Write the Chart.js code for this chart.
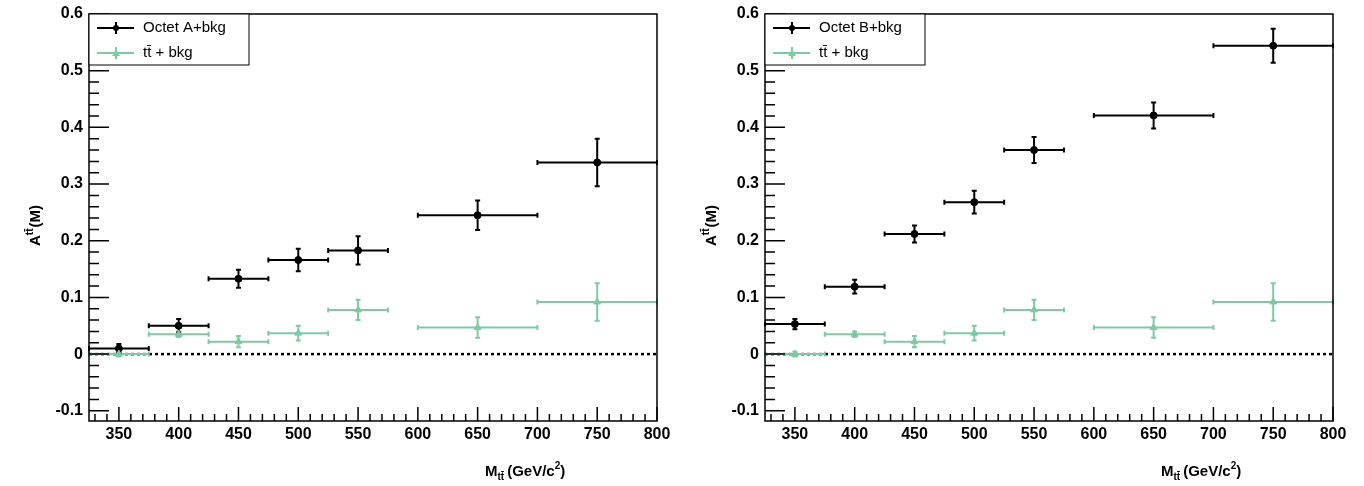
<!DOCTYPE html>
<html><head><meta charset="utf-8">
<script src="https://cdn.jsdelivr.net/npm/chart.js@4/dist/chart.umd.min.js"></script>
<style>body{margin:0;background:#fff;display:flex}canvas{display:block}</style>
</head><body>
<canvas id="cA" width="682" height="486"></canvas>
<canvas id="cB" width="682" height="486"></canvas>
<script>
const binLo = [325, 375, 425, 475, 525, 600, 700];
const binHi = [375, 425, 475, 525, 575, 700, 800];
const binMid = [350, 400, 450, 500, 550, 650, 750];
const sm = [0.0, 0.035, 0.022, 0.037, 0.078, 0.047, 0.092];
const smErr = [0.004, 0.005, 0.010, 0.013, 0.018, 0.018, 0.033];
const octA = [0.010, 0.050, 0.133, 0.166, 0.183, 0.245, 0.338];
const octAErr = [0.008, 0.012, 0.016, 0.020, 0.025, 0.026, 0.042];
const octB = [0.053, 0.119, 0.212, 0.268, 0.360, 0.421, 0.544];
const octBErr = [0.009, 0.012, 0.015, 0.020, 0.023, 0.023, 0.030];
const xTicks = [350, 400, 450, 500, 550, 600, 650, 700, 750, 800];
const yTicks = [-0.1, 0, 0.1, 0.2, 0.3, 0.4, 0.5, 0.6];

const GREEN = '#7fc9a6';

function pts(vals, err){
  return vals.map((v, i) => ({x: binMid[i], y: v, lo: binLo[i], hi: binHi[i], e: err[i]}));
}

const rootPlugin = {
  id: 'root',
  beforeDatasetsDraw(chart){
    const {ctx, chartArea: a, scales: {x, y}} = chart;
    ctx.save();
    // dashed zero line
    ctx.strokeStyle = '#000'; ctx.lineWidth = 2.5; ctx.setLineDash([3, 3]);
    ctx.beginPath(); ctx.moveTo(a.left, y.getPixelForValue(0)); ctx.lineTo(a.right, y.getPixelForValue(0)); ctx.stroke();
    ctx.setLineDash([]);
    // error bars
    chart.data.datasets.forEach(ds => {
      ctx.strokeStyle = ds.borderColor; ctx.lineWidth = 2;
      ds.data.forEach(p => {
        const px = x.getPixelForValue(p.x), py = y.getPixelForValue(p.y);
        const x1 = x.getPixelForValue(p.lo), x2 = x.getPixelForValue(p.hi);
        const yt = y.getPixelForValue(p.y + p.e), yb = y.getPixelForValue(p.y - p.e);
        ctx.beginPath();
        ctx.moveTo(x1, py); ctx.lineTo(x2, py);
        ctx.moveTo(x1, py - 2.5); ctx.lineTo(x1, py + 2.5);
        ctx.moveTo(x2, py - 2.5); ctx.lineTo(x2, py + 2.5);
        ctx.moveTo(px, yt); ctx.lineTo(px, yb);
        ctx.moveTo(px - 2.5, yt); ctx.lineTo(px + 2.5, yt);
        ctx.moveTo(px - 2.5, yb); ctx.lineTo(px + 2.5, yb);
        ctx.stroke();
      });
    });
    ctx.restore();
  },
  afterDraw(chart){
    const {ctx, chartArea: a, scales: {x, y}} = chart;
    const o = chart.options.plugins.root;
    ctx.save();
    ctx.strokeStyle = '#000'; ctx.fillStyle = '#000'; ctx.lineWidth = 1.5;
    ctx.strokeRect(a.left, a.top, a.right - a.left, a.bottom - a.top);
    ctx.beginPath();
    for (let v = 330; v <= 800; v += 10){
      const px = x.getPixelForValue(v);
      const len = v % 50 === 0 ? 14 : 7;
      ctx.moveTo(px, a.bottom); ctx.lineTo(px, a.bottom - len);
    }
    for (let k = -10; k <= 60; k += 2){
      const py = y.getPixelForValue(k / 100);
      const len = k % 10 === 0 ? 20 : 10;
      ctx.moveTo(a.left, py); ctx.lineTo(a.left + len, py);
    }
    ctx.stroke();
    ctx.font = 'bold 16px "Liberation Sans", Arial, sans-serif';
    ctx.textAlign = 'center'; ctx.textBaseline = 'top';
    xTicks.forEach(v => ctx.fillText(String(v), x.getPixelForValue(v), a.bottom + 6));
    ctx.textAlign = 'right'; ctx.textBaseline = 'middle';
    yTicks.forEach(v => ctx.fillText(v === 0 ? '0' : v.toFixed(1), a.left - 6, y.getPixelForValue(v)));
    // x title
    ctx.textAlign = 'left'; ctx.textBaseline = 'alphabetic';
    let tx = a.right - 172, ty = 476;
    ctx.font = 'bold 15px "Liberation Sans", Arial, sans-serif';
    ctx.fillText('M', tx, ty); tx += ctx.measureText('M').width;
    ctx.font = 'bold 10px "Liberation Sans", Arial, sans-serif';
    ctx.fillText('tt\u0304', tx, ty + 4); tx += ctx.measureText('tt\u0304').width + 3;
    ctx.font = 'bold 15px "Liberation Sans", Arial, sans-serif';
    ctx.fillText('(GeV/c', tx, ty); tx += ctx.measureText('(GeV/c').width;
    ctx.font = 'bold 10px "Liberation Sans", Arial, sans-serif';
    ctx.fillText('2', tx, ty - 7); tx += ctx.measureText('2').width;
    ctx.font = 'bold 15px "Liberation Sans", Arial, sans-serif';
    ctx.fillText(')', tx, ty);
    // y title
    ctx.save(); ctx.translate(a.left - 49, 218); ctx.rotate(-Math.PI / 2);
    let ux = -28;
    ctx.fillText('A', ux, 0); ux += ctx.measureText('A').width;
    ctx.font = 'bold 10px "Liberation Sans", Arial, sans-serif';
    ctx.fillText('tt\u0304', ux, -7); ux += ctx.measureText('tt\u0304').width + 1;
    ctx.font = 'bold 15px "Liberation Sans", Arial, sans-serif';
    ctx.fillText('(M)', ux, 0);
    ctx.restore();
    // legend
    const lx = a.left, ly = a.top, lw = 160, lh = 51;
    ctx.fillStyle = '#fff'; ctx.fillRect(lx, ly, lw, lh);
    ctx.lineWidth = 1; ctx.strokeRect(lx, ly, lw, lh);
    const items = [[o.label, '#000', 'circle'], ['tt\u0304 + bkg', GREEN, 'triangle']];
    items.forEach((it, i) => {
      const cy = ly + 14 + i * 25;
      ctx.strokeStyle = it[1]; ctx.fillStyle = it[1]; ctx.lineWidth = 2;
      ctx.beginPath(); ctx.moveTo(lx + 8, cy); ctx.lineTo(lx + 45, cy);
      ctx.moveTo(lx + 27, cy - 6); ctx.lineTo(lx + 27, cy + 6); ctx.stroke();
      ctx.beginPath();
      if (it[2] === 'circle') ctx.arc(lx + 27, cy, 3, 0, Math.PI * 2);
      else { ctx.moveTo(lx + 27, cy - 4); ctx.lineTo(lx + 31, cy + 3); ctx.lineTo(lx + 23, cy + 3); }
      ctx.fill();
      ctx.fillStyle = '#000'; ctx.font = '15px "Liberation Sans", Arial, sans-serif';
      ctx.textAlign = 'left'; ctx.textBaseline = 'middle';
      ctx.fillText(it[0], lx + 54, cy);
    });
    ctx.restore();
  }
};

function makeChart(id, label, vals, err, padL, padR){
  return new Chart(document.getElementById(id), {
    type: 'scatter',
    data: {datasets: [
      {data: pts(sm, smErr), borderColor: GREEN, backgroundColor: GREEN, pointStyle: 'triangle', pointRadius: 4},
      {data: pts(vals, err), borderColor: '#000', backgroundColor: '#000', pointStyle: 'circle', pointRadius: 3.5}
    ]},
    options: {
      responsive: false, animation: false,
      layout: {padding: {left: padL, right: padR, top: 14, bottom: 65}},
      scales: {
        x: {min: 325, max: 800, display: false},
        y: {min: -0.118, max: 0.6, display: false}
      },
      plugins: {legend: {display: false}, tooltip: {enabled: false}, root: {label}}
    },
    plugins: [rootPlugin]
  });
}

makeChart('cA', 'Octet A+bkg', octA, octAErr, 89, 25);
makeChart('cB', 'Octet B+bkg', octB, octBErr, 83, 31);
</script>
</body></html>
